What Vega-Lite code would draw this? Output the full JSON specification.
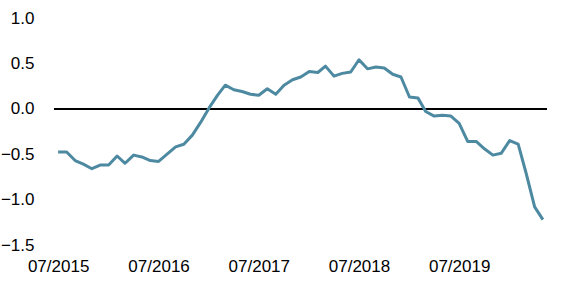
{
  "$schema": "https://vega.github.io/schema/vega-lite/v6.json",
  "width": 493,
  "height": 227,
  "autosize": "none",
  "padding": {"left": 54, "top": 18, "right": 14, "bottom": 42},
  "background": "white",
  "config": {"view": {"stroke": null}, "font": "Liberation Sans"},
  "data": {"values": [
    {"date": "2015-07-01", "value": -0.475},
    {"date": "2015-08-01", "value": -0.475},
    {"date": "2015-09-01", "value": -0.57},
    {"date": "2015-10-01", "value": -0.61},
    {"date": "2015-11-01", "value": -0.66},
    {"date": "2015-12-01", "value": -0.62},
    {"date": "2016-01-01", "value": -0.62},
    {"date": "2016-02-01", "value": -0.52},
    {"date": "2016-03-01", "value": -0.60},
    {"date": "2016-04-01", "value": -0.51},
    {"date": "2016-05-01", "value": -0.53},
    {"date": "2016-06-01", "value": -0.57},
    {"date": "2016-07-01", "value": -0.58},
    {"date": "2016-08-01", "value": -0.50},
    {"date": "2016-09-01", "value": -0.42},
    {"date": "2016-10-01", "value": -0.39},
    {"date": "2016-11-01", "value": -0.29},
    {"date": "2016-12-01", "value": -0.15},
    {"date": "2017-01-01", "value": 0.01},
    {"date": "2017-02-01", "value": 0.15},
    {"date": "2017-03-01", "value": 0.26},
    {"date": "2017-04-01", "value": 0.21},
    {"date": "2017-05-01", "value": 0.19},
    {"date": "2017-06-01", "value": 0.16},
    {"date": "2017-07-01", "value": 0.15},
    {"date": "2017-08-01", "value": 0.22},
    {"date": "2017-09-01", "value": 0.16},
    {"date": "2017-10-01", "value": 0.26},
    {"date": "2017-11-01", "value": 0.32},
    {"date": "2017-12-01", "value": 0.35},
    {"date": "2018-01-01", "value": 0.41},
    {"date": "2018-02-01", "value": 0.40},
    {"date": "2018-03-01", "value": 0.47},
    {"date": "2018-04-01", "value": 0.36},
    {"date": "2018-05-01", "value": 0.39},
    {"date": "2018-06-01", "value": 0.405},
    {"date": "2018-07-01", "value": 0.54},
    {"date": "2018-08-01", "value": 0.44},
    {"date": "2018-09-01", "value": 0.46},
    {"date": "2018-10-01", "value": 0.45},
    {"date": "2018-11-01", "value": 0.38},
    {"date": "2018-12-01", "value": 0.35},
    {"date": "2019-01-01", "value": 0.13},
    {"date": "2019-02-01", "value": 0.12},
    {"date": "2019-03-01", "value": -0.03},
    {"date": "2019-04-01", "value": -0.08},
    {"date": "2019-05-01", "value": -0.07},
    {"date": "2019-06-01", "value": -0.08},
    {"date": "2019-07-01", "value": -0.16},
    {"date": "2019-08-01", "value": -0.36},
    {"date": "2019-09-01", "value": -0.36},
    {"date": "2019-10-01", "value": -0.44},
    {"date": "2019-11-01", "value": -0.51},
    {"date": "2019-12-01", "value": -0.49},
    {"date": "2020-01-01", "value": -0.35},
    {"date": "2020-02-01", "value": -0.39},
    {"date": "2020-03-01", "value": -0.71},
    {"date": "2020-04-01", "value": -1.08},
    {"date": "2020-05-01", "value": -1.22}
  ]},
  "layer": [
    {
      "mark": {"type": "rule", "color": "black", "strokeWidth": 1},
      "encoding": {"y": {"datum": 0, "type": "quantitative"}}
    },
    {
      "mark": {"type": "line", "color": "#4d8aa1", "strokeWidth": 3, "strokeJoin": "round"},
      "encoding": {
        "x": {
          "field": "date", "type": "temporal",
          "scale": {"type": "utc", "domain": [{"year": 2015, "month": 6, "date": 16, "utc": true}, {"year": 2020, "month": 5, "date": 16, "utc": true}]},
          "axis": {
            "title": null, "domain": false, "ticks": false, "grid": false,
            "labelExpr": "utcFormat(datum.value, '%m/%Y')",
            "values": [
              {"year": 2015, "month": 7, "date": 1, "utc": true},
              {"year": 2016, "month": 7, "date": 1, "utc": true},
              {"year": 2017, "month": 7, "date": 1, "utc": true},
              {"year": 2018, "month": 7, "date": 1, "utc": true},
              {"year": 2019, "month": 7, "date": 1, "utc": true}
            ],
            "labelFontSize": 17, "labelColor": "black", "labelPadding": 13, "labelFlush": false
          }
        },
        "y": {
          "field": "value", "type": "quantitative",
          "scale": {"domain": [-1.5, 1.0], "nice": false, "zero": false},
          "axis": {
            "title": null, "domain": false, "ticks": false, "grid": false,
            "values": [-1.5, -1.0, -0.5, 0, 0.5, 1.0], "format": ".1f",
            "labelFontSize": 17, "labelColor": "black", "labelPadding": 20
          }
        }
      }
    }
  ]
}
